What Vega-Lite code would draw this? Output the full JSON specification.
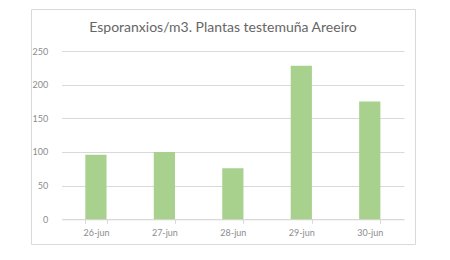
{
  "$schema": "https://vega.github.io/schema/vega-lite/v6.json",
  "autosize": "none",
  "width": 384,
  "height": 235,
  "padding": {"left": 31, "top": 9, "right": 5, "bottom": 5},
  "background": "white",
  "title": {
    "text": "Esporanxios/m3. Plantas testemuña Areeiro",
    "orient": "top",
    "anchor": "middle",
    "frame": "group",
    "baseline": "alphabetic",
    "offset": -37,
    "font": "Lato",
    "fontSize": 14,
    "fontWeight": "normal",
    "color": "#666666"
  },
  "config": {
    "view": {"stroke": "#d9d9d9", "strokeWidth": 1}
  },
  "data": {
    "values": [
      {"fecha": "26-jun", "valor": 96},
      {"fecha": "27-jun", "valor": 100},
      {"fecha": "28-jun", "valor": 76},
      {"fecha": "29-jun", "valor": 228},
      {"fecha": "30-jun", "valor": 175}
    ]
  },
  "mark": {"type": "bar", "color": "#a9d18e"},
  "encoding": {
    "x": {
      "field": "fecha",
      "type": "nominal",
      "sort": null,
      "scale": {"range": [30.7, 373], "paddingInner": 0.69, "paddingOuter": 0.345},
      "axis": {
        "title": null,
        "labelAngle": 0,
        "offset": -24.7,
        "domainColor": "#d9d9d9",
        "tickColor": "#d9d9d9",
        "tickSize": 4,
        "tickBand": "extent",
        "labelPadding": 5,
        "labelFont": "Lato",
        "labelFontSize": 9,
        "labelColor": "#8c8c8c",
        "grid": false
      }
    },
    "y": {
      "field": "valor",
      "type": "quantitative",
      "scale": {"domain": [0, 250], "range": [210.3, 42], "nice": false},
      "axis": {
        "title": null,
        "values": [0, 50, 100, 150, 200, 250],
        "offset": -30.7,
        "domain": false,
        "ticks": false,
        "tickSize": 0,
        "labelPadding": 14,
        "labelFont": "Lato",
        "labelFontSize": 9,
        "labelColor": "#8c8c8c",
        "grid": true,
        "gridColor": "#d9d9d9",
        "gridWidth": 1
      }
    }
  }
}
